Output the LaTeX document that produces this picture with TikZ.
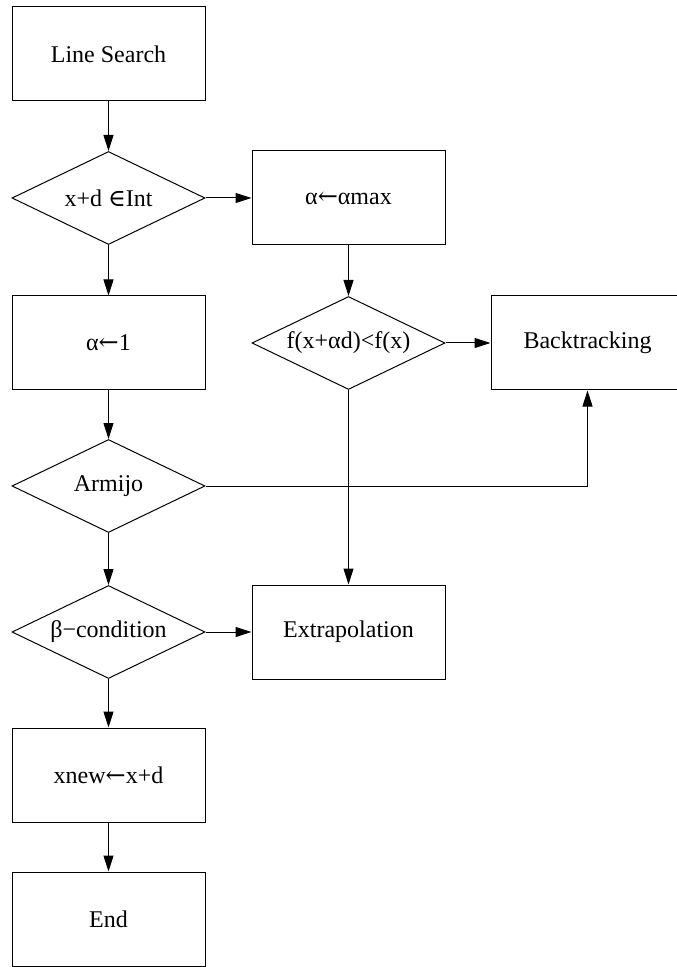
\documentclass[tikz,border=0pt]{standalone}
\usepackage{fontspec}
\setmainfont{Liberation Serif}
\newfontfamily\symfont{DejaVu Serif}
\usetikzlibrary{shapes.geometric,arrows.meta}

\tikzset{
    box/.style={draw, line width=0.5pt, minimum width=96.5pt, minimum height=47pt,
        inner sep=0pt, font=\fontsize{12}{14}\selectfont},
    test/.style={draw, diamond, shape aspect=2, line width=0.5pt, minimum width=96.5pt,
        minimum height=46.5pt, inner sep=0pt, font=\fontsize{12}{14}\selectfont},
    flow/.style={-{Triangle[length=8pt,width=5pt]}, line width=0.5pt}
}
\newcommand{\assign}{{\symfont ←}}

\begin{document}
\begin{tikzpicture}[x=0.5pt,y=-0.5pt]
            %\draw[help lines] (0,0) grid[step=50] (676,967);
            \useasboundingbox (0,0) rectangle (676,967);

            % left column
            \node[box]  (search) at (108.5,54)  {Line Search};
            \node[test] (inside) at (108.5,198) {x+d {\symfont ∈}Int};
            \node[box]  (one)    at (108.5,343) {α\assign 1};
            \node[test] (armijo) at (108.5,486) {Armijo};
            \node[test] (beta)   at (108.5,632) {β−condition};
            \node[box]  (update) at (108.5,775) {xnew\assign x+d};
            \node[box]  (stop)   at (108.5,919) {End};

            % middle and right
            \node[box]  (amax)   at (348.5,198) {α\assign αmax};
            \node[test] (decr)   at (348.5,343) {f(x+αd)<f(x)};
            \node[box]  (back)   at (587.5,343) {Backtracking};
            \node[box]  (extra)  at (348.5,632) {Extrapolation};

            \foreach \a/\b in {search/inside, inside/one, one/armijo, armijo/beta,
                               beta/update, update/stop, amax/decr, decr/extra}
            {
                \draw[flow] (\a.south) -- (\b.north);
            }
            \foreach \a/\b in {inside/amax, decr/back, beta/extra}
            {
                \draw[flow] (\a.east) -- (\b.west);
            }
            \draw[flow] (armijo.east) -| (back.south);

        \end{tikzpicture}
\end{document}
